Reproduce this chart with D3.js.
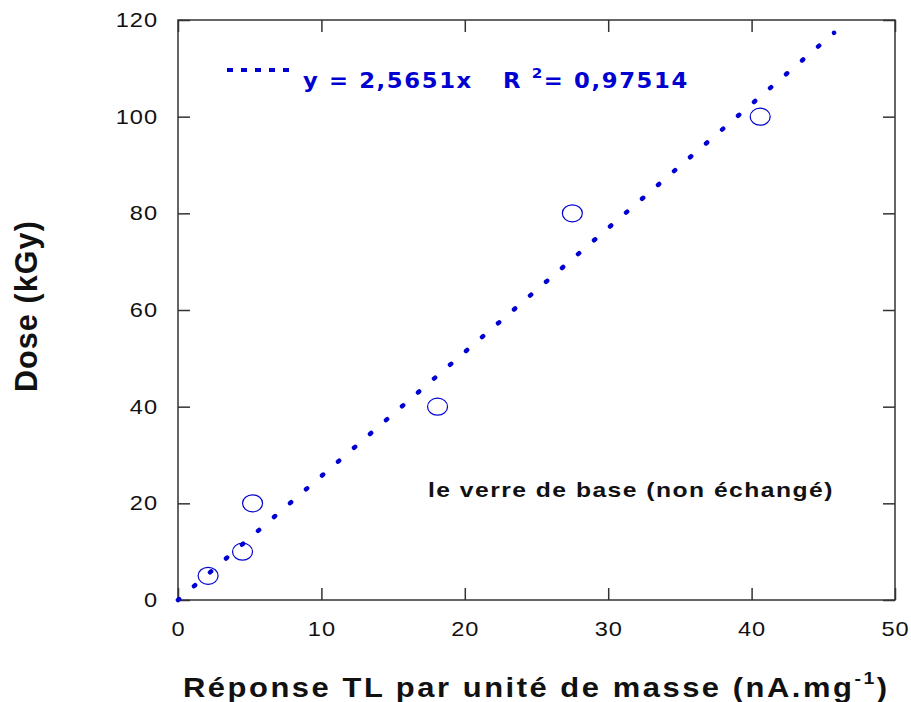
<!DOCTYPE html>
<html><head><meta charset="utf-8">
<script src="https://cdn.jsdelivr.net/npm/d3@7"></script>
<style>body{margin:0;background:#fff}svg{display:block}</style>
</head><body>
<svg id="c" width="911" height="702"></svg>
<script>
const doseX = [2.1, 4.5, 5.2, 18.1, 27.5, 40.6];
const doseY = [5, 10, 20, 40, 80, 100];
const slope = 2.5651;
const fitRange = [0, 45.75];
const xTicks = [0, 10, 20, 30, 40, 50];
const yTicks = [0, 20, 40, 60, 80, 100, 120];
const equationText = "y = 2,5651x";
const r2Text = "0,97514";
const annotation = "le verre de base (non échangé)";
const xTitle = "Réponse TL par unité de masse (nA.mg";
const yTitle = "Dose (kGy)";

const svg = d3.select("#c");
const L = 178, R = 895, T = 20, B = 600;
const x = d3.scaleLinear().domain([0, 50]).range([L, R]);
const y = d3.scaleLinear().domain([0, 120]).range([B, T]);
const blue = "#0000d0";
const frame = "#333";
const ink = "#111";
const sans = "Liberation Sans, Arial, sans-serif";

// place a text group at (px,py) with rotation, stretched along its length to a target width
function stretchText(g, target, crossScale) {
  const t = g.select("text");
  const w = t.node().getBBox().width;
  t.attr("transform", `scale(${target / w},${crossScale || 1})`);
}

// frame
svg.append("rect").attr("x", L).attr("y", T).attr("width", R - L).attr("height", B - T)
  .attr("fill", "none").attr("stroke", frame).attr("stroke-width", 1.5);

// axes with inward ticks
const tk = 12;
const gB = svg.append("g").attr("transform", `translate(0,${B})`)
  .call(d3.axisBottom(x).tickValues(xTicks).tickSize(-tk).tickPadding(22).tickFormat(d3.format("d")));
const gT = svg.append("g").attr("transform", `translate(0,${T})`)
  .call(d3.axisTop(x).tickValues(xTicks).tickSize(-tk).tickFormat(""));
const gL = svg.append("g").attr("transform", `translate(${L},0)`)
  .call(d3.axisLeft(y).tickValues(yTicks).tickSize(-tk).tickPadding(20).tickFormat(d3.format("d")));
const gR = svg.append("g").attr("transform", `translate(${R},0)`)
  .call(d3.axisRight(y).tickValues(yTicks).tickSize(-tk).tickFormat(""));
const tsx = 1.18;
[gB, gT, gL, gR].forEach(g => {
  g.select(".domain").remove();
  g.selectAll(".tick line").attr("stroke", frame).attr("stroke-width", 1.5);
  g.selectAll("text").attr("font-family", sans)
    .attr("font-size", 20).attr("fill", ink).attr("letter-spacing", 0.8);
});
gB.selectAll("text").attr("transform", `scale(${tsx},1)`);
gL.selectAll("text").attr("x", -20 / tsx).attr("transform", `scale(${tsx},1)`);

// fit line (dotted)
const fx1 = x(fitRange[0]), fy1 = y(slope * fitRange[0]);
const fx2 = x(fitRange[1]), fy2 = y(slope * fitRange[1]);
const flen = Math.hypot(fx2 - fx1, fy2 - fy1);
const gap = flen / 41;
svg.append("line")
  .attr("x1", fx1).attr("y1", fy1).attr("x2", fx2).attr("y2", fy2)
  .attr("stroke", blue).attr("stroke-width", 4.5).attr("stroke-linecap", "round")
  .attr("stroke-dasharray", `1.5 ${gap - 1.5}`);

// points
svg.append("g").selectAll("ellipse").data(doseX).join("ellipse")
  .attr("cx", d => x(d)).attr("cy", (d, i) => y(doseY[i]))
  .attr("rx", 10).attr("ry", 8.5)
  .attr("fill", "none").attr("stroke", blue).attr("stroke-width", 1.2);

// legend
svg.append("line").attr("x1", 227).attr("y1", 70).attr("x2", 297).attr("y2", 70)
  .attr("stroke", blue).attr("stroke-width", 4).attr("stroke-dasharray", "6 8");
function eqText(g) {
  return g.append("text").attr("font-family", "DejaVu Sans, Verdana, sans-serif")
    .attr("font-weight", "bold").attr("font-size", 21).attr("fill", blue).attr("letter-spacing", 1.5);
}
const g1 = svg.append("g").attr("transform", "translate(303,88)");
eqText(g1).text(equationText);
stretchText(g1, 170);
const g2 = svg.append("g").attr("transform", "translate(503,88)");
const e2 = eqText(g2);
e2.append("tspan").text("R ");
e2.append("tspan").attr("font-size", 14).attr("dy", -10).text("2");
e2.append("tspan").attr("dy", 10).text("= " + r2Text);
stretchText(g2, 186);

// annotation
const ga = svg.append("g").attr("transform", "translate(428,497)");
ga.append("text").attr("font-family", sans).attr("font-weight", "bold")
  .attr("font-size", 20).attr("fill", ink).attr("letter-spacing", 1.2).text(annotation);
stretchText(ga, 406);

// x title
const gx = svg.append("g").attr("transform", "translate(183,697)");
const xt = gx.append("text").attr("font-family", sans).attr("font-weight", "bold")
  .attr("font-size", 27).attr("fill", ink).attr("letter-spacing", 2.2);
xt.append("tspan").text(xTitle);
xt.append("tspan").attr("font-size", 17).attr("dy", -13).text("-1");
xt.append("tspan").attr("dy", 13).text(")");
stretchText(gx, 707);

// y title
const gy = svg.append("g").attr("transform", "translate(37,392) rotate(-90)");
gy.append("text").attr("font-family", sans).attr("font-weight", "bold")
  .attr("font-size", 27).attr("fill", ink).attr("letter-spacing", 1)
  .text(yTitle);
stretchText(gy, 172, 1.15);
</script>
</body></html>
